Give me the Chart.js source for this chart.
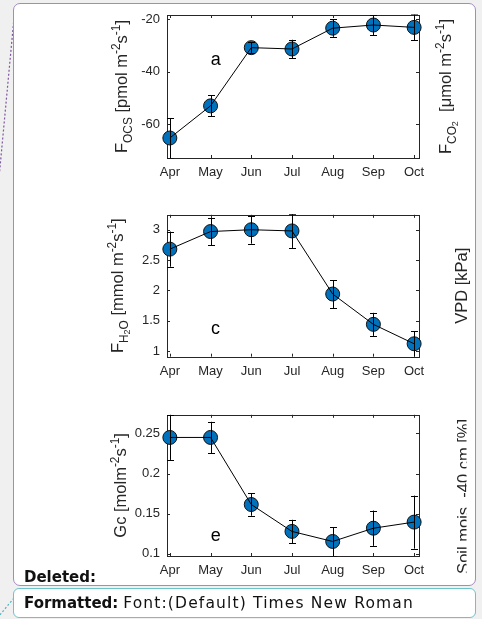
<!DOCTYPE html>
<html>
<head>
<meta charset="utf-8">
<script src="https://cdn.jsdelivr.net/npm/chart.js@4.4.0/dist/chart.umd.min.js"></script>
<style>
  html, body { margin: 0; padding: 0; background: #f0f0f0; }
  #page { position: relative; width: 482px; height: 619px; overflow: hidden; background: #f0f0f0; }
  .balloon { position: absolute; background: #fff; box-sizing: border-box; }
  #b1 { left: 13px; top: 3px; width: 463px; height: 583px; border: 1.5px solid #a58abf; border-radius: 7px; }
  #b2 { left: 13px; top: 588px; width: 463px; height: 30px; border: 1.5px solid #6cc3cb; border-radius: 6px; }
  canvas { position: absolute; left: 0; }
  .note { position: absolute; left: 24px; font-family: "DejaVu Sans", sans-serif; font-size: 15px; line-height: 18px; color: #111; white-space: nowrap; }
  .note span { font-size: 15.5px; letter-spacing: 1.15px; }
</style>
</head>
<body>
<div id="page">
  <svg width="482" height="619" style="position:absolute;left:0;top:0">
    <line x1="14" y1="18" x2="-1" y2="178" stroke="#7d569c" stroke-width="1.2" stroke-dasharray="2,2"/>
    <line x1="14" y1="598" x2="-1" y2="616" stroke="#4fb3bd" stroke-width="1.2" stroke-dasharray="2,2"/>
  </svg>
  <div class="balloon" id="b1"></div>
  <div class="balloon" id="b2"></div>
  <canvas id="c1" width="482" height="200" style="top:0px"></canvas>
  <canvas id="c2" width="482" height="200" style="top:200px"></canvas>
  <canvas id="c3" width="482" height="190" style="top:400px"></canvas>
  <div class="note" style="top:568px"><b>Deleted:</b></div>
  <div class="note" style="top:594px"><b>Formatted:</b> <span>Font:(Default) Times New Roman</span></div>
</div>
<script>
// Monthly means with one-sided error half-widths
const months = ['Apr', 'May', 'Jun', 'Jul', 'Aug', 'Sep', 'Oct'];
const monthNum = [4, 5, 6, 7, 8, 9, 10];

const focs = [-65.2, -53.0, -30.9, -31.4, -23.5, -22.3, -23.2];
const focsErr = [7.6, 4.0, 2.1, 3.5, 3.3, 3.8, 4.9];

const fh2o = [2.68, 2.97, 3.00, 2.98, 1.94, 1.44, 1.12];
const fh2oErr = [0.29, 0.23, 0.23, 0.28, 0.23, 0.19, 0.21];

const gc = [0.245, 0.245, 0.1615, 0.128, 0.1155, 0.132, 0.1396];
const gcErr = [0.028, 0.0195, 0.014, 0.0145, 0.018, 0.022, 0.033];

const yTicks1 = [-60, -40, -20];
const yTicks2 = [1, 1.5, 2, 2.5, 3];
const yTicks3 = [0.1, 0.15, 0.2, 0.25];

const AXIS_COLOR = '#262626';
const FONT = '"Liberation Sans", Arial, Helvetica, sans-serif';

// Draws text made of runs at normal / sub / sup / sub-sub level, centred on (x, y)
function drawRich(ctx, runs, x, y, size, rot) {
  const scale = { 0: 1, 1: 0.72, '-1': 0.72, '-2': 0.55 };
  const shift = { 0: 0, 1: -0.42, '-1': 0.28, '-2': 0.45 };
  ctx.save();
  ctx.translate(x, y);
  ctx.rotate(rot);
  ctx.textBaseline = 'alphabetic';
  ctx.textAlign = 'left';
  let total = 0;
  const widths = runs.map(([t, l]) => {
    ctx.font = (size * scale[l]) + 'px ' + FONT;
    const w = ctx.measureText(t).width;
    total += w;
    return w;
  });
  let cx = -total / 2;
  runs.forEach(([t, l], i) => {
    ctx.font = (size * scale[l]) + 'px ' + FONT;
    ctx.fillText(t, cx, shift[l] * size);
    cx += widths[i];
  });
  ctx.restore();
}

const matlabAxes = {
  id: 'matlabAxes',
  beforeDatasetsDraw(chart) {
    const { ctx, chartArea: a } = chart;
    ctx.save();
    ctx.strokeStyle = AXIS_COLOR;
    ctx.lineWidth = 1;
    ctx.strokeRect(Math.round(a.left) + 0.5, Math.round(a.top) + 0.5,
                   Math.round(a.right - a.left), Math.round(a.bottom - a.top));
    const tl = 3;
    ctx.beginPath();
    chart.scales.x.ticks.forEach(t => {
      const px = Math.round(chart.scales.x.getPixelForValue(t.value)) + 0.5;
      ctx.moveTo(px, a.bottom); ctx.lineTo(px, a.bottom - tl);
      ctx.moveTo(px, a.top); ctx.lineTo(px, a.top + tl);
    });
    chart.scales.y.ticks.forEach(t => {
      const py = Math.round(chart.scales.y.getPixelForValue(t.value)) + 0.5;
      ctx.moveTo(a.left, py); ctx.lineTo(a.left + tl, py);
      ctx.moveTo(a.right, py); ctx.lineTo(a.right - tl, py);
    });
    ctx.stroke();
    ctx.restore();
  },
  afterDatasetsDraw(chart, args, o) {
    const { ctx, chartArea: a } = chart;
    const xs = chart.scales.x, ys = chart.scales.y;
    ctx.save();
    ctx.beginPath();
    ctx.rect(a.left, a.top - 0.5, a.right - a.left, a.bottom - a.top + 1);
    ctx.clip();
    ctx.strokeStyle = '#000';
    ctx.lineWidth = 1;
    ctx.beginPath();
    o.values.forEach((v, i) => {
      const px = Math.round(xs.getPixelForValue(monthNum[i])) + 0.5;
      const top = ys.getPixelForValue(v + o.errors[i]);
      const bot = ys.getPixelForValue(v - o.errors[i]);
      ctx.moveTo(px, top); ctx.lineTo(px, bot);
      ctx.moveTo(px - 3.5, Math.round(top) + 0.5); ctx.lineTo(px + 3.5, Math.round(top) + 0.5);
      ctx.moveTo(px - 3.5, Math.round(bot) + 0.5); ctx.lineTo(px + 3.5, Math.round(bot) + 0.5);
    });
    ctx.stroke();
    ctx.restore();
  },
  afterDraw(chart, args, o) {
    const { ctx, chartArea: a } = chart;
    const cy = (a.top + a.bottom) / 2;
    ctx.save();
    ctx.fillStyle = AXIS_COLOR;
    drawRich(ctx, o.leftTitle, a.left + o.leftOffset, cy, 16.5, -Math.PI / 2);
    if (o.rightClip) {
      ctx.beginPath();
      ctx.rect(0, 0, o.rightClip, chart.height);
      ctx.clip();
    }
    drawRich(ctx, o.rightTitle, a.right + o.rightOffset, cy + (o.rightShift || 0), 16.5, -Math.PI / 2);
    ctx.restore();
    // panel letter
    ctx.save();
    ctx.fillStyle = '#000';
    ctx.font = '18px ' + FONT;
    ctx.textAlign = 'center';
    ctx.textBaseline = 'middle';
    ctx.fillText(o.letter, chart.scales.x.getPixelForValue(o.letterAt[0]),
                 chart.scales.y.getPixelForValue(o.letterAt[1]));
    ctx.restore();
  }
};

function makePanel(id, values, errors, yMin, yMax, yTicks, padTop, xAxisH, extra) {
  new Chart(document.getElementById(id), {
    data: {
      datasets: [
        {
          type: 'line',
          data: values.map((v, i) => ({ x: monthNum[i], y: v })),
          borderColor: '#000',
          borderWidth: 1,
          pointRadius: 0,
          tension: 0,
          order: 0
        },
        {
          type: 'scatter',
          data: values.map((v, i) => ({ x: monthNum[i], y: v })),
          pointRadius: 7,
          pointBorderWidth: 1,
          pointBackgroundColor: '#0072BD',
          pointBorderColor: '#111',
          clip: false,
          order: 1
        }
      ]
    },
    options: {
      responsive: false,
      animation: false,
      events: [],
      layout: { padding: { top: padTop, left: 0, right: 63, bottom: 0 } },
      plugins: {
        legend: { display: false },
        tooltip: { enabled: false },
        matlabAxes: Object.assign({ values, errors }, extra)
      },
      scales: {
        x: {
          type: 'linear',
          min: 3.93,
          max: 10.12,
          afterBuildTicks: s => { s.ticks = monthNum.map(v => ({ value: v })); },
          afterFit: s => { s.height = xAxisH; },
          ticks: {
            autoSkip: false,
            maxRotation: 0,
            padding: 7,
            color: AXIS_COLOR,
            font: { family: FONT, size: 13 },
            callback: v => months[monthNum.indexOf(v)]
          },
          grid: { display: false, drawTicks: false },
          border: { display: false }
        },
        y: {
          type: 'linear',
          min: yMin,
          max: yMax,
          afterBuildTicks: s => { s.ticks = yTicks.map(v => ({ value: v })); },
          afterFit: s => { s.width = 167; },
          ticks: {
            padding: 7,
            color: AXIS_COLOR,
            font: { family: FONT, size: 13 },
            callback: v => String(v)
          },
          grid: { display: false, drawTicks: false },
          border: { display: false }
        }
      }
    },
    plugins: [matlabAxes]
  });
}

makePanel('c1', focs, focsErr, -72.8, -18.5, yTicks1, 15, 42, {
  leftTitle: [['F', 0], ['OCS', -1], [' [pmol m', 0], ['-2', 1], ['s', 0], ['-1', 1], [']', 0]],
  leftOffset: -40,
  rightTitle: [['F', 0], ['CO', -1], ['2', -2], ['  [\u03bcmol m', 0], ['-2', 1], ['s', 0], ['-1', 1], [']', 0]],
  rightOffset: 32,
  letter: 'a',
  letterAt: [5.13, -35.6]
});

makePanel('c2', fh2o, fh2oErr, 0.907, 3.246, yTicks2, 14, 43.3, {
  leftTitle: [['F', 0], ['H', -1], ['2', -2], ['O', -1], [' [mmol m', 0], ['-2', 1], ['s', 0], ['-1', 1], [']', 0]],
  leftOffset: -44,
  rightTitle: [['VPD [kPa]', 0]],
  rightOffset: 48,
  letter: 'c',
  letterAt: [5.12, 1.356]
});

makePanel('c3', gc, gcErr, 0.0974, 0.2732, yTicks3, 13.3, 34, {
  leftTitle: [['Gc [molm', 0], ['-2', 1], ['s', 0], ['-1', 1], [']', 0]],
  leftOffset: -41,
  rightTitle: [['Soil mois. -40 cm [%]', 0]],
  rightOffset: 50,
  rightShift: 11,
  rightClip: 466.5,
  letter: 'e',
  letterAt: [5.13, 0.1224]
});
</script>
</body>
</html>
